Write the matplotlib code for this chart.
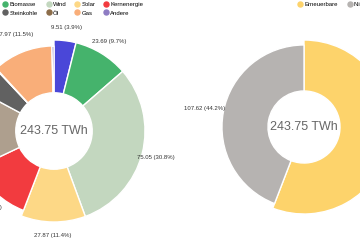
import matplotlib.pyplot as plt
from matplotlib.lines import Line2D

plt.rcParams['font.family'] = ['Liberation Sans', 'DejaVu Sans']

# Energy mix (TWh), clockwise from 12 o'clock
sources = ['Wasserkraft', 'Biomasse', 'Wind', 'Solar', 'Kernenergie',
           'Braunkohle', 'Steinkohle', 'Öl', 'Gas', 'Andere']
twh = [9.51, 23.69, 75.05, 27.87, 29.5, 36.3, 12.6, 0.3, 27.97, 0.96]
colors = ['#4a47d8', '#45b36c', '#c3d7bf', '#fdd886', '#f23b3f',
          '#ae9f8e', '#616161', '#8c6d4a', '#f9ae79', '#8e7cc3']
renewable = [True, True, True, True, False, False, False, False, False, False]

groups = ['Erneuerbare', 'Nicht erneuerbare']
group_twh = [136.13, 107.62]
group_colors = ['#fdd36b', '#b6b3b1']

legend_names = ['Biomasse', 'Wind', 'Solar', 'Kernenergie',
                'Steinkohle', 'Öl', 'Gas', 'Andere']

total = sum(group_twh)
inner = 0.42


def make_label(values):
    s = sum(values)

    def fmt(pct):
        if pct < 2:
            return ''
        return f'{pct * s / 100:.2f} ({pct:.1f}%)'
    return fmt


fig = plt.figure(figsize=(3.6, 2.4), dpi=100)

# left donut: all sources
ax1 = fig.add_axes([-0.1028, 0.075, 0.5056, 0.7583])
w1, _, t1 = ax1.pie(twh, colors=colors, startangle=90, counterclock=False,
                    radius=1.0, autopct=make_label(twh), pctdistance=1.15,
                    wedgeprops=dict(width=1.0 - inner, edgecolor='white', linewidth=1.0),
                    textprops=dict(fontsize=4.3, color='#333333'))
for w, ren in zip(w1, renewable):
    if not ren:
        w.set_radius(0.935)
        w.set_width(0.935 - inner)
ax1.set_xlim(-1, 1)
ax1.set_ylim(-1, 1)
ax1.text(0, 0, f'{total:.2f} TWh', ha='center', va='center', fontsize=9, color='#666666')

# right donut: renewable vs. non-renewable
ax2 = fig.add_axes([0.6028, 0.1083, 0.4833, 0.725])
w2, _, t2 = ax2.pie(group_twh, colors=group_colors, startangle=90, counterclock=False,
                    radius=1.0, autopct=make_label(group_twh), pctdistance=1.16,
                    wedgeprops=dict(width=1.0 - 0.414, edgecolor='white', linewidth=1.0),
                    textprops=dict(fontsize=4.3, color='#333333'))
w2[1].set_radius(0.943)
w2[1].set_width(0.943 - 0.414)
ax2.set_xlim(-1, 1)
ax2.set_ylim(-1, 1)
ax2.text(0, 0, f'{total:.2f} TWh', ha='center', va='center', fontsize=9, color='#666666')

# legends (row-major order -> column-major for matplotlib)
col = dict(zip(sources, colors))
def handle(name, c):
    return Line2D([], [], marker='o', linestyle='none', markersize=3.6,
                  markerfacecolor=c, markeredgecolor=c, label=name)

rows = [legend_names[:4], legend_names[4:]]
order = [rows[r][c] for c in range(4) for r in range(2)]
hs = [handle(n, col[n]) for n in order]
fig.legend(handles=hs, ncol=4, loc='upper left', bbox_to_anchor=(-0.004, 1.012),
           frameon=False, fontsize=4.3, handlelength=0.7, handletextpad=0.35,
           columnspacing=1.45, labelspacing=0.55, borderpad=0.3)

hs2 = [handle(g, c) for g, c in zip(groups, group_colors)]
fig.legend(handles=hs2, ncol=2, loc='upper left', bbox_to_anchor=(0.815, 1.012),
           frameon=False, fontsize=4.3, handlelength=0.7, handletextpad=0.35,
           columnspacing=1.6, borderpad=0.3)

fig.savefig('out.png', dpi=100, facecolor='white')
